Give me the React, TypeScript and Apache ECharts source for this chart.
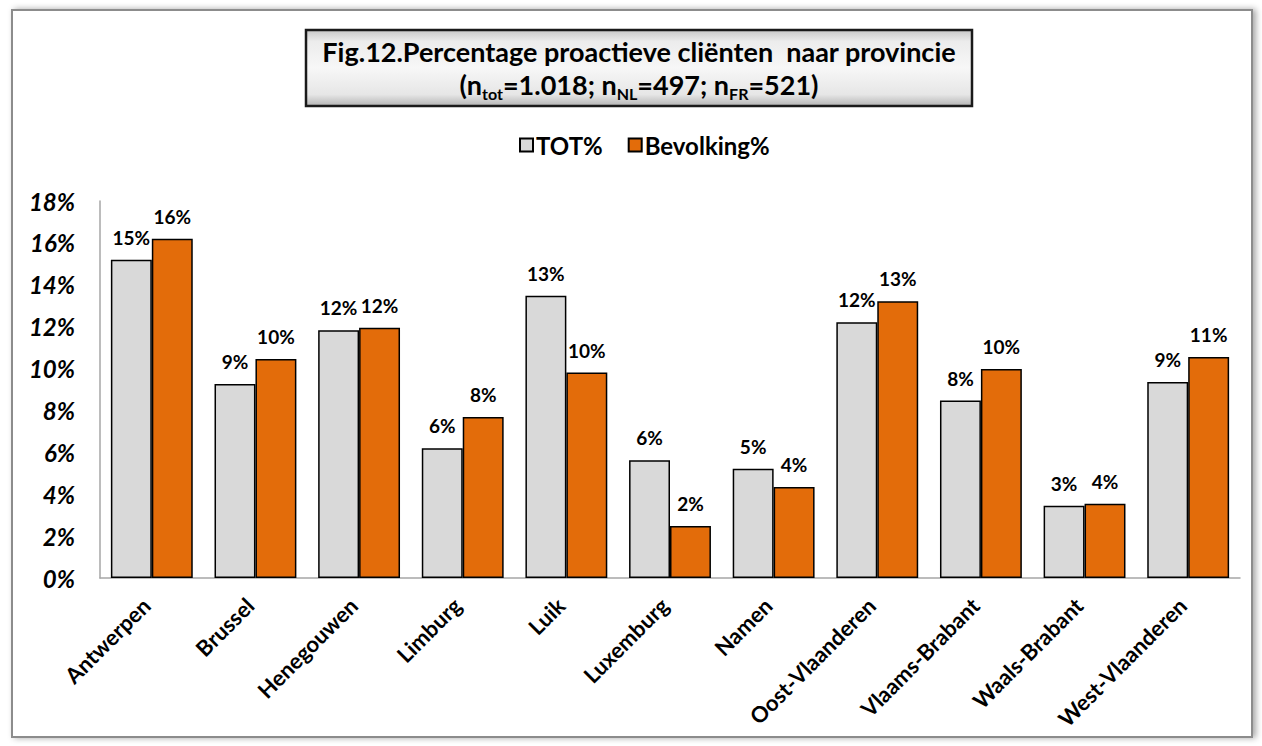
import React, { useEffect, useRef } from "react";
import * as echarts from "echarts";

const categories = [
  "Antwerpen", "Brussel", "Henegouwen", "Limburg", "Luik", "Luxemburg",
  "Namen", "Oost-Vlaanderen", "Vlaams-Brabant", "Waals-Brabant", "West-Vlaanderen",
];
const totValues = [15.19, 9.26, 11.83, 6.2, 13.48, 5.62, 5.22, 12.21, 8.47, 3.45, 9.36];
const bevValues = [16.2, 10.46, 11.95, 7.69, 9.81, 2.48, 4.35, 13.21, 9.98, 3.55, 10.55];
const seriesNames = ["TOT%", "Bevolking%"];
const titleLine1 = "Fig.12.Percentage proactieve cliënten  naar provincie";

const FONT = "Lato, 'Open Sans', sans-serif";

export default function App() {
  const ref = useRef<HTMLDivElement>(null);
  useEffect(() => {
    document.body.style.margin = "0";
    if (!ref.current) return;
    const chart = echarts.init(ref.current, null, { renderer: "svg" });
    const labelStyle = {
      show: true,
      position: "top" as const,
      distance: 13,
      fontFamily: FONT,
      fontWeight: "bold" as const,
      fontSize: 19,
      color: "#000",
      formatter: (p: any) => Math.round(p.value) + "%",
    };
    chart.setOption({
      animation: false,
      backgroundColor: "#fff",
      graphic: [
        {
          type: "rect",
          shape: { x: 12, y: 10, width: 1240, height: 727 },
          style: {
            fill: "#fff",
            stroke: "#8c8c8c",
            lineWidth: 2,
            shadowBlur: 6,
            shadowColor: "rgba(0,0,0,0.35)",
            shadowOffsetX: 3,
            shadowOffsetY: 0,
          },
          z: -10,
        },
        {
          type: "rect",
          shape: { x: 306, y: 30, width: 666, height: 76 },
          style: {
            fill: new echarts.graphic.LinearGradient(0, 0, 0, 1, [
              { offset: 0, color: "#c8c8c8" },
              { offset: 0.15, color: "#ececec" },
              { offset: 0.5, color: "#f7f7f7" },
              { offset: 0.85, color: "#e6e6e6" },
              { offset: 1, color: "#b4b4b4" },
            ]),
            stroke: "#1a1a1a",
            lineWidth: 2.5,
          },
          z: -5,
        },
      ],
      title: {
        text:
          "{a|" + titleLine1 + "}\n{a|(n}{s|tot}{a|=1.018; n}{s|NL}{a|=497; n}{s|FR}{a|=521)}",
        left: 639,
        top: 35,
        textAlign: "center",
        padding: 0,
        textStyle: {
          rich: {
            a: {
              fontFamily: FONT,
              fontWeight: "bold",
              fontSize: 27,
              color: "#000",
              lineHeight: 33,
            },
            s: {
              fontFamily: FONT,
              fontWeight: "bold",
              fontSize: 16,
              color: "#000",
              lineHeight: 18,
              verticalAlign: "bottom",
            },
          },
        },
      },
      legend: {
        top: 128,
        left: 514,
        itemWidth: 13,
        itemHeight: 13,
        itemGap: 25,
        icon: "rect",
        textStyle: {
          fontFamily: FONT,
          fontWeight: "bold",
          fontSize: 24,
          color: "#000",
          padding: [0, 0, 0, -2],
        },
        data: seriesNames,
      },
      grid: { left: 100, right: 22, top: 201, bottom: 168, containLabel: false },
      xAxis: {
        type: "category",
        data: categories,
        axisLine: { lineStyle: { color: "#a6a6a6", width: 1.5 } },
        axisTick: { show: false },
        axisLabel: {
          rotate: 45,
          interval: 0,
          margin: 18,
          padding: [0, 8, 0, 0],
          fontFamily: FONT,
          fontWeight: "bold",
          fontSize: 22,
          color: "#000",
        },
      },
      yAxis: {
        type: "value",
        min: 0,
        max: 18,
        interval: 2,
        axisLine: { show: true, lineStyle: { color: "#a6a6a6", width: 1.5 } },
        axisTick: { show: false },
        splitLine: { show: false },
        axisLabel: {
          formatter: "{value}%",
          margin: 25,
          fontFamily: FONT,
          fontWeight: "bold",
          fontStyle: "italic",
          fontSize: 24,
          color: "#000",
        },
      },
      series: [
        {
          name: seriesNames[0],
          type: "bar",
          data: totValues,
          barGap: "0%",
          barCategoryGap: "21%",
          itemStyle: { color: "#d9d9d9", borderColor: "#000", borderWidth: 1.5 },
          label: labelStyle,
        },
        {
          name: seriesNames[1],
          type: "bar",
          data: bevValues,
          barGap: "0%",
          barCategoryGap: "21%",
          itemStyle: { color: "#e36c0a", borderColor: "#000", borderWidth: 1.5 },
          label: labelStyle,
        },
      ],
    });
    return () => chart.dispose();
  }, []);
  return <div ref={ref} style={{ width: 1262, height: 746 }} />;
}
